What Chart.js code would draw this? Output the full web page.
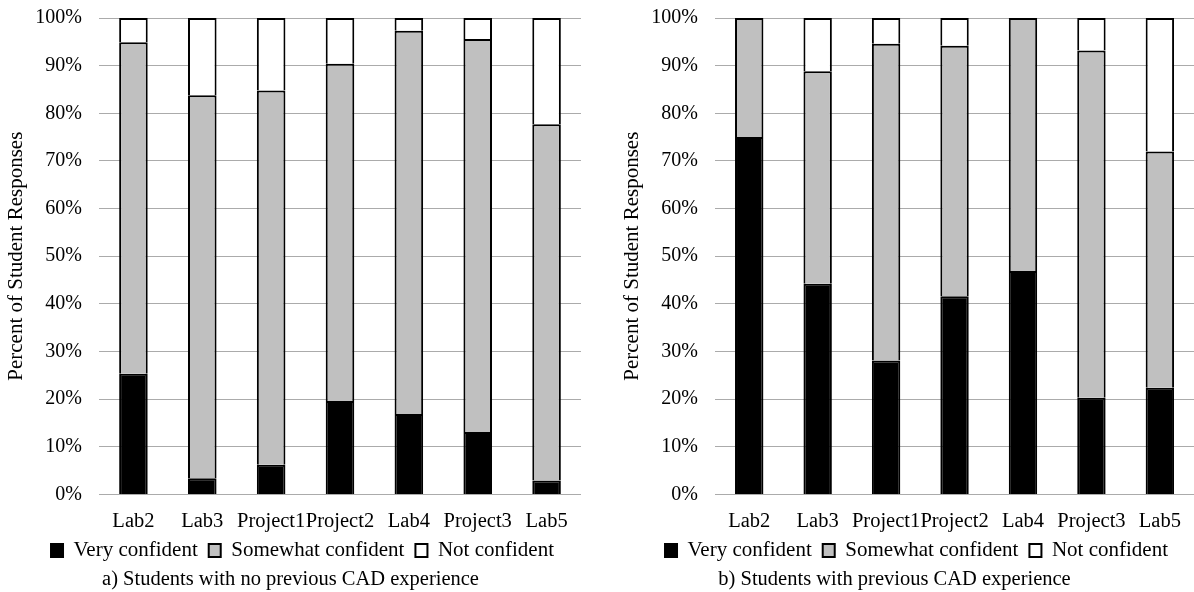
<!DOCTYPE html>
<html>
<head>
<meta charset="utf-8">
<script src="https://cdn.jsdelivr.net/npm/chart.js@4.4.1/dist/chart.umd.min.js"></script>
<style>
  html, body { margin: 0; padding: 0; background: #fff; }
  body { width: 1194px; height: 592px; overflow: hidden; position: relative; }
  #wa { position: absolute; left: 0; top: 0; width: 616px; height: 592px; }
  #wb { position: absolute; left: 616px; top: 0; width: 580px; height: 592px; }
</style>
</head>
<body>
<div id="wa"><canvas id="ca" width="616" height="592"></canvas></div>
<div id="wb"><canvas id="cb" width="580" height="592"></canvas></div>
<script>
// ---- data ----
const categories = ['Lab2', 'Lab3', 'Project1', 'Project2', 'Lab4', 'Project3', 'Lab5'];
const seriesNames = ['Very confident', 'Somewhat confident', 'Not confident'];
const yTicks = [0, 10, 20, 30, 40, 50, 60, 70, 80, 90, 100];

// a) Students with no previous CAD experience
const noCadVery     = [25.3, 3.4, 6.2, 19.6, 16.9, 13.1, 2.9];
const noCadSomewhat = [69.6, 80.4, 78.6, 70.8, 80.4, 82.5, 74.8];
const noCadNot      = [5.1, 16.2, 15.2, 9.6, 2.7, 4.4, 22.3];

// b) Students with previous CAD experience
const cadVery     = [75.0, 44.2, 28.1, 41.6, 46.9, 20.3, 22.4];
const cadSomewhat = [25.0, 44.6, 66.5, 52.6, 53.1, 72.9, 49.6];
const cadNot      = [0.0, 11.2, 5.4, 5.8, 0.0, 6.8, 28.0];

const captionA = 'a) Students with no previous CAD experience';
const captionB = 'b) Students with previous CAD experience';
const yTitle = 'Percent of Student Responses';

// ---- styling ----
Chart.defaults.font.family = "'Liberation Serif', 'Times New Roman', serif";
Chart.defaults.color = '#000';
Chart.defaults.animation = false;

const shiftPlugin = {
  id: 'shiftBoxes',
  afterLayout(chart, args, opts) {
    const lg = chart.legend;
    if (lg) {
      lg.left += opts.legendX || 0; lg.right += opts.legendX || 0;
      lg.top += opts.legendY || 0; lg.bottom += opts.legendY || 0;
    }
    const tb = chart.titleBlock;
    if (tb && opts.titleX) { tb.left += opts.titleX; tb.right += opts.titleX; }
  }
};

function makeChart(id, very, somewhat, not, caption, padRight, legendShift, titleShift) {
  const common = { barPercentage: 0.415, categoryPercentage: 1.0 };
  return new Chart(document.getElementById(id), {
    type: 'bar',
    data: {
      labels: categories,
      datasets: [
        Object.assign({ label: seriesNames[0], data: very, backgroundColor: '#000000', borderColor: '#000000', borderWidth: 2 }, common),
        Object.assign({ label: seriesNames[1], data: somewhat, backgroundColor: '#c0c0c0', borderColor: '#000000', borderWidth: 2 }, common),
        Object.assign({ label: seriesNames[2], data: not, backgroundColor: '#ffffff', borderColor: '#000000', borderWidth: 2 }, common)
      ]
    },
    plugins: [shiftPlugin],
    options: {
      responsive: false,
      devicePixelRatio: 1,
      layout: { padding: { left: 0, right: padRight, top: 18, bottom: 0 } },
      scales: {
        x: {
          stacked: true,
          grid: { display: false, drawTicks: false },
          border: { display: false },
          afterFit(scale) { scale.height = 39; },
          ticks: { font: { size: 20.5 }, padding: 15, maxRotation: 0, autoSkip: false }
        },
        y: {
          stacked: true,
          min: 0, max: 100,
          afterBuildTicks(scale) { scale.ticks = yTicks.map(v => ({ value: v })); },
          afterFit(scale) { scale.width = 99; },
          grid: { color: '#ababab', lineWidth: 1, drawTicks: true, tickLength: 14, tickColor: 'rgba(0,0,0,0)' },
          border: { display: false },
          ticks: { font: { size: 20 }, padding: 3, callback: v => v + '%' },
          title: { display: true, text: yTitle, font: { size: 21 }, padding: { top: 4, bottom: 0 } }
        }
      },
      plugins: {
        legend: {
          position: 'bottom',
          labels: { font: { size: 21 }, boxWidth: 12, boxHeight: 13, padding: 11 }
        },
        title: {
          display: true,
          position: 'bottom',
          text: caption,
          font: { size: 20.5, weight: 'normal', lineHeight: 1.2 },
          padding: { top: -8, bottom: 0 }
        },
        tooltip: { enabled: false },
        shiftBoxes: { legendX: legendShift, legendY: -4.5, titleX: titleShift }
      }
    }
  });
}

makeChart('ca', noCadVery, noCadSomewhat, noCadNot, captionA, 35, 12, 0);
makeChart('cb', cadVery, cadSomewhat, cadNot, captionB, 1, 11, -11);
</script>
</body>
</html>
